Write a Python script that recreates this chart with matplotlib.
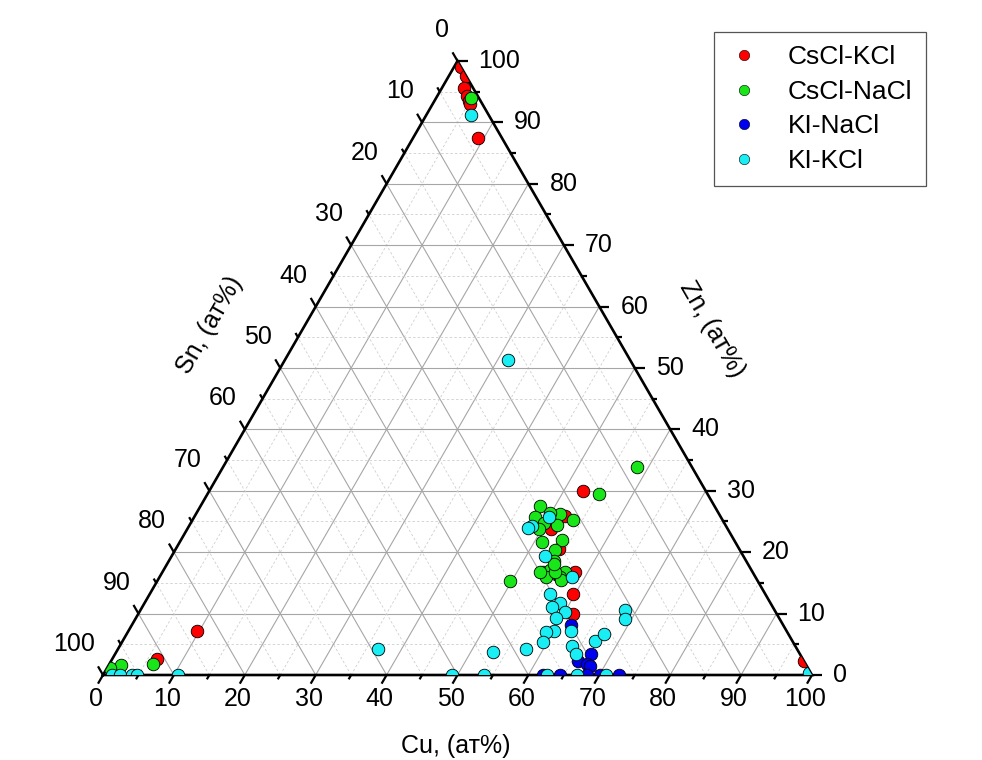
"""
Ternary Cu-Zn-Sn composition diagram for the four salt-flux systems.
"""

import numpy as np
import matplotlib
matplotlib.use("Agg")
import matplotlib.pyplot as plt
from matplotlib.patches import Polygon
from matplotlib.lines import Line2D

plt.rcParams['font.family'] = ['Liberation Sans', 'DejaVu Sans']

SQ3 = np.sqrt(3) / 2
PX = 7.09                      # pixels per percent along an edge

# Compositions in at.% (Sn is the balance)
series_names = ['CsCl-KCl', 'CsCl-NaCl', 'KI-NaCl', 'KI-KCl']
series_colors = ['#ff0000', '#19e619', '#0000f0', '#19eef5']

cu_cscl_kcl = [1.0, 2.4, 3.1, 4.2, 4.9, 5.3, 9.2, 52.7, 52.2, 51.4, 54.0,
               58.2, 59.7, 61.3, 9.7, 6.3, 97.8]
zn_cscl_kcl = [99.0, 97.6, 95.6, 94.3, 93.5, 93.0, 87.5, 30.0, 25.9, 23.7, 20.6,
               16.7, 13.2, 9.9, 7.2, 2.6, 2.2]

cu_cscl_nacl = [4.9, 58.4, 55.3, 47.9, 48.0, 51.3, 53.7, 49.8, 51.8, 49.6,
                51.0, 53.7, 53.6, 54.3, 53.7, 54.5, 55.7, 56.8, 54.6, 56.5,
                49.7, 6.2, 1.7, 0.4, 49.9, 53.2, 56.8, 55.4, 54.6]
zn_cscl_nacl = [94.0, 33.8, 29.4, 27.5, 25.8, 26.3, 25.2, 24.7, 24.4, 23.7,
                21.7, 22.0, 20.4, 18.5, 16.8, 17.1, 16.5, 16.8, 15.9, 15.9,
                15.3, 1.8, 1.6, 1.1, 26.4, 16.8, 15.5, 16.8, 18.0]

cu_ki_nacl = [62.0, 67.1, 65.9, 67.3, 68.0, 62.1, 64.5, 68.2, 70.1, 72.8]
zn_ki_nacl = [8.1, 3.5, 2.2, 1.8, 1.4, 0.0, 0.0, 0.0, 0.0, 0.0]

cu_ki_kcl = [6.3, 31.5, 50.1, 48.3, 48.0, 52.6, 58.2, 56.5, 58.6, 57.8, 60.0,
             59.3, 62.4, 60.0, 59.0, 59.4, 57.6, 63.8, 65.0, 66.7, 67.3, 68.3,
             69.0, 53.2, 36.7, 49.2, 53.8, 62.6, 66.8, 71.0, 1.2, 2.4, 4.1,
             4.8, 10.6, 99.4]
zn_ki_kcl = [91.2, 51.3, 25.7, 24.3, 23.9, 19.4, 15.9, 13.2, 11.8, 11.0, 10.3,
             9.3, 7.2, 7.2, 7.0, 5.4, 4.2, 4.7, 3.5, 5.5, 6.6, 10.6,
             9.2, 3.7, 4.2, 0.0, 0.0, 0.0, 0.0, 0.0, 0.0, 0.0, 0.0,
             0.0, 0.0, 0.3]

major_ticks = list(range(0, 101, 10))
minor_ticks = list(range(5, 100, 10))
axis_title = ['Cu, (ат%)', 'Sn, (ат%)', 'Zn, (ат%)']


def to_xy(cu, zn):
    cu = np.asarray(cu, dtype=float)
    zn = np.asarray(zn, dtype=float)
    return cu + zn / 2, zn * SQ3


fig = plt.figure(figsize=(9.82, 7.60), dpi=100)
ax = fig.add_axes([0, 0, 1, 1])
ax.set_xlim(-103 / PX, (982 - 103) / PX)
ax.set_ylim(-85 / PX, (760 - 85) / PX)
ax.axis('off')

# grid: constant Zn, constant Cu, constant Sn
for v in range(5, 100, 5):
    major = v % 10 == 0
    kw = dict(color='#a6a6a6', lw=0.8) if major else \
        dict(color='#cfcfcf', lw=0.6, dashes=(3, 2.5))
    for (c0, z0), (c1, z1) in [((0, v), (100 - v, v)),
                               ((v, 0), (v, 100 - v)),
                               ((100 - v, 0), (0, 100 - v))]:
        x, y = to_xy([c0, c1], [z0, z1])
        ax.plot(x, y, zorder=1, **kw)

# frame
tx, ty = to_xy([0, 100, 0, 0], [0, 0, 100, 0])
ax.plot(tx, ty, color='black', lw=1.9, zorder=3, solid_joinstyle='miter')
tri = Polygon(np.column_stack(to_xy([0, 100, 0], [0, 0, 100])),
              closed=True, fill=False, edgecolor='none', transform=ax.transData)
ax.add_patch(tri)

# ticks
dirs = {'cu': (-0.5, -SQ3), 'zn': (1.0, 0.0), 'sn': (-0.5, SQ3)}
for v in major_ticks + minor_ticks:
    ln = 10 / PX if v % 10 == 0 else 5 / PX
    for key, (cu, zn) in [('cu', (v, 0)), ('zn', (100 - v, v)),
                          ('sn', (0, 100 - v))]:
        x, y = to_xy(cu, zn)
        dx, dy = dirs[key]
        ax.plot([x, x + dx * ln], [y, y + dy * ln], color='black',
                lw=1.6, zorder=3, solid_capstyle='butt')

fs = 18
for v in major_ticks:
    x, y = to_xy(v, 0)
    ax.text(x - 7 / PX, y - 24 / PX, str(v), fontsize=fs,
            ha='center', va='center')
    x, y = to_xy(100 - v, v)
    ax.text(x + 21 / PX, y, str(v), fontsize=fs, ha='left', va='center')
    x, y = to_xy(0, 100 - v)
    ax.text(x - 8 / PX, y + 31 / PX, str(v), fontsize=fs,
            ha='right', va='center')

ax.text(49.8, -10.0, axis_title[0], fontsize=fs, ha='center', va='center')
ax.text(15.1, 49.4, axis_title[1], fontsize=fs, ha='center', va='center',
        rotation=60, rotation_mode='anchor')
ax.text(85.9, 48.7, axis_title[2], fontsize=fs, ha='center', va='center',
        rotation=-60, rotation_mode='anchor')

# data
all_series = [(cu_cscl_kcl, zn_cscl_kcl), (cu_cscl_nacl, zn_cscl_nacl),
              (cu_ki_nacl, zn_ki_nacl), (cu_ki_kcl, zn_ki_kcl)]
handles = []
for (cu, zn), name, col in zip(all_series, series_names, series_colors):
    x, y = to_xy(cu, zn)
    sc = ax.scatter(x, y, s=82, c=col, edgecolors='black', linewidths=0.6,
                    zorder=4)
    sc.set_clip_path(tri)
    handles.append(Line2D([], [], ls='none', marker='o', markersize=7.5,
                          markerfacecolor=col, markeredgecolor='black',
                          markeredgewidth=0.4, label=name))

leg = fig.legend(handles=handles, loc='upper left',
                 bbox_to_anchor=(714 / 982, 1 - 32 / 760), fontsize=19,
                 frameon=True, fancybox=False, edgecolor='#555555',
                 framealpha=1, borderpad=0.5, labelspacing=0.4,
                 handlelength=1.3, handletextpad=1.0, borderaxespad=0)
leg.get_frame().set_linewidth(0.9)

fig.savefig('out.png', dpi=100)
